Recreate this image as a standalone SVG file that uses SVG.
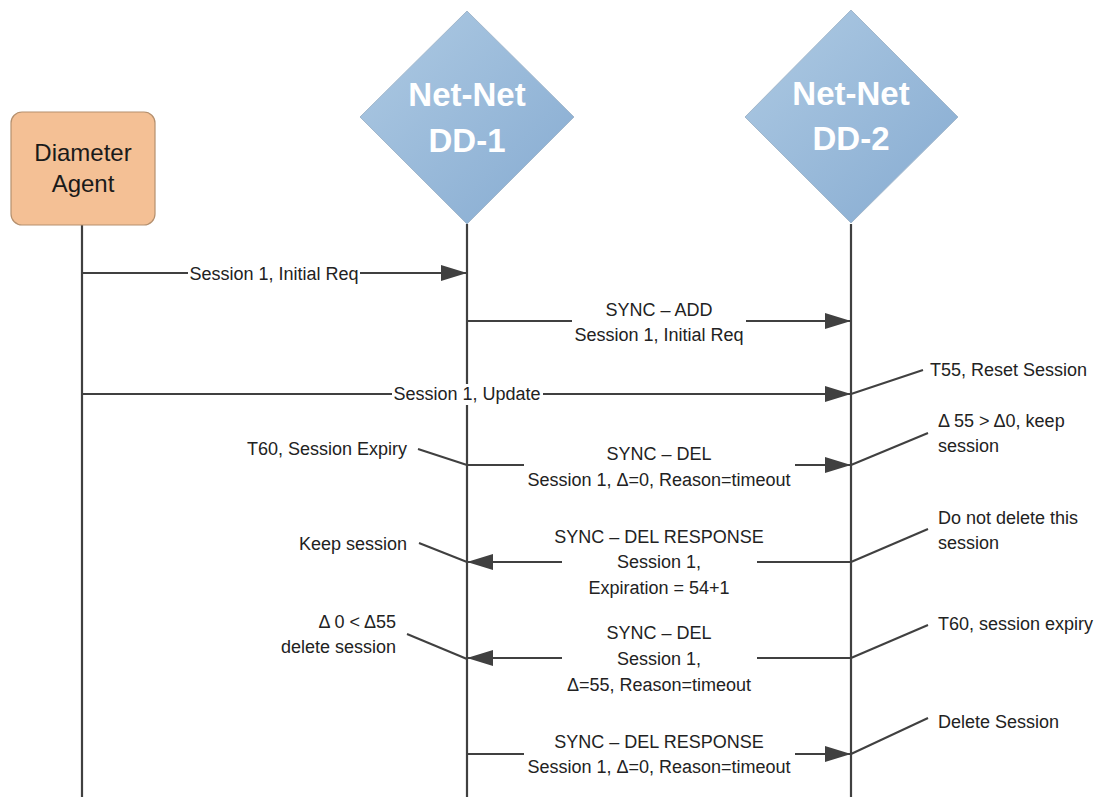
<svg xmlns="http://www.w3.org/2000/svg" width="1107" height="800" viewBox="0 0 1107 800">
  <style>
    .life { stroke: #404040; stroke-width: 2.2; fill: none; }
    .msg { stroke: #404040; stroke-width: 2.2; fill: none; }
    .ann { stroke: #404040; stroke-width: 2; fill: none; }
    .bg { fill: #ffffff; }
    .t { font-family: "Liberation Sans", Arial, sans-serif; font-size: 18px; fill: #222222; }
    .c { text-anchor: middle; }
    .e { text-anchor: end; }
    .node { font-family: "Liberation Sans", Arial, sans-serif; text-anchor: middle; }
    .nt { font-size: 24px; fill: #1a1a1a; }
    .dt { font-size: 33px; font-weight: bold; fill: #ffffff; }
  </style>
  <defs>
    <linearGradient id="blue" x1="0" y1="0" x2="1" y2="1">
      <stop offset="0" stop-color="#AECAE3"/>
      <stop offset="1" stop-color="#86ABD1"/>
    </linearGradient>
    <marker id="arr" markerUnits="userSpaceOnUse" markerWidth="26" markerHeight="18" refX="26" refY="9" orient="auto" viewBox="0 0 26 18">
      <path d="M0,1 L26,9 L0,17 Z" fill="#404040"/>
    </marker>
  </defs>
  <rect width="1107" height="800" fill="#ffffff"/>

  <g id="lifelines">
    <line class="life" x1="82" y1="225" x2="82" y2="797"/>
    <line class="life" x1="467" y1="224" x2="467" y2="797"/>
    <line class="life" x1="851" y1="224" x2="851" y2="797"/>
  </g>

  <g id="node-agent" class="node">
    <rect x="11" y="112" width="144" height="113" rx="11" ry="11" fill="#F4C095" stroke="#B5906E" stroke-width="1.2"/>
    <text class="nt" x="83" y="161">Diameter</text>
    <text class="nt" x="83" y="192">Agent</text>
  </g>

  <g id="node-dd1" class="node">
    <polygon points="467,11 574,117 467,224 360,117" fill="url(#blue)" stroke="#A3B8CC" stroke-width="1"/>
    <text class="dt" x="467" y="106">Net-Net</text>
    <text class="dt" x="467" y="152">DD-1</text>
  </g>

  <g id="node-dd2" class="node">
    <polygon points="851,10 958,117 851,223 745,117" fill="url(#blue)" stroke="#A3B8CC" stroke-width="1"/>
    <text class="dt" x="851" y="105">Net-Net</text>
    <text class="dt" x="851" y="150">DD-2</text>
  </g>

  <g id="connectors">
    <line class="msg" x1="82" y1="273" x2="467" y2="273" marker-end="url(#arr)"/>
    <line class="msg" x1="467" y1="321" x2="851" y2="321" marker-end="url(#arr)"/>
    <line class="msg" x1="82" y1="394" x2="851" y2="394" marker-end="url(#arr)"/>
    <line class="msg" x1="467" y1="465" x2="851" y2="465" marker-end="url(#arr)"/>
    <line class="msg" x1="851" y1="562" x2="467" y2="562" marker-end="url(#arr)"/>
    <line class="msg" x1="851" y1="658" x2="467" y2="658" marker-end="url(#arr)"/>
    <line class="msg" x1="467" y1="754" x2="851" y2="754" marker-end="url(#arr)"/>

    <line class="ann" x1="851" y1="394" x2="923" y2="370"/>
    <line class="ann" x1="851" y1="465" x2="928" y2="433"/>
    <line class="ann" x1="418" y1="449" x2="467" y2="465"/>
    <line class="ann" x1="851" y1="562" x2="928" y2="529"/>
    <line class="ann" x1="419" y1="543" x2="467" y2="562"/>
    <line class="ann" x1="851" y1="658" x2="928" y2="625"/>
    <line class="ann" x1="407" y1="634" x2="467" y2="659"/>
    <line class="ann" x1="851" y1="754" x2="928" y2="718"/>
  </g>

  <g id="labels">
    <rect class="bg" x="188" y="263" width="172" height="21"/>
    <text class="t c" x="274" y="279.5">Session 1, Initial Req</text>

    <rect class="bg" x="572" y="299" width="174" height="48"/>
    <text class="t c" x="659" y="316">SYNC – ADD</text>
    <text class="t c" x="659" y="341">Session 1, Initial Req</text>

    <rect class="bg" x="392" y="384" width="151" height="21"/>
    <text class="t c" x="467" y="400">Session 1, Update</text>

    <rect class="bg" x="524" y="442" width="271" height="50"/>
    <text class="t c" x="659" y="460">SYNC – DEL</text>
    <text class="t c" x="659" y="486">Session 1, Δ=0, Reason=timeout</text>

    <rect class="bg" x="562" y="525" width="195" height="75"/>
    <text class="t c" x="659" y="543">SYNC – DEL RESPONSE</text>
    <text class="t c" x="659" y="568">Session 1,</text>
    <text class="t c" x="659" y="594">Expiration = 54+1</text>

    <rect class="bg" x="562" y="621" width="195" height="76"/>
    <text class="t c" x="659" y="639">SYNC – DEL</text>
    <text class="t c" x="659" y="665">Session 1,</text>
    <text class="t c" x="659" y="691">Δ=55, Reason=timeout</text>

    <rect class="bg" x="524" y="731" width="271" height="48"/>
    <text class="t c" x="659" y="748">SYNC – DEL RESPONSE</text>
    <text class="t c" x="659" y="773">Session 1, Δ=0, Reason=timeout</text>

    <text class="t" x="930" y="376">T55, Reset Session</text>
    <text class="t" x="938" y="427">Δ 55 &gt; Δ0, keep</text>
    <text class="t" x="938" y="452">session</text>
    <text class="t e" x="407" y="455">T60, Session Expiry</text>
    <text class="t" x="938" y="524">Do not delete this</text>
    <text class="t" x="938" y="549">session</text>
    <text class="t e" x="407" y="550">Keep session</text>
    <text class="t" x="938" y="630">T60, session expiry</text>
    <text class="t e" x="396" y="628">Δ 0 &lt; Δ55</text>
    <text class="t e" x="396" y="653">delete session</text>
    <text class="t" x="938" y="728">Delete Session</text>
  </g>
</svg>
